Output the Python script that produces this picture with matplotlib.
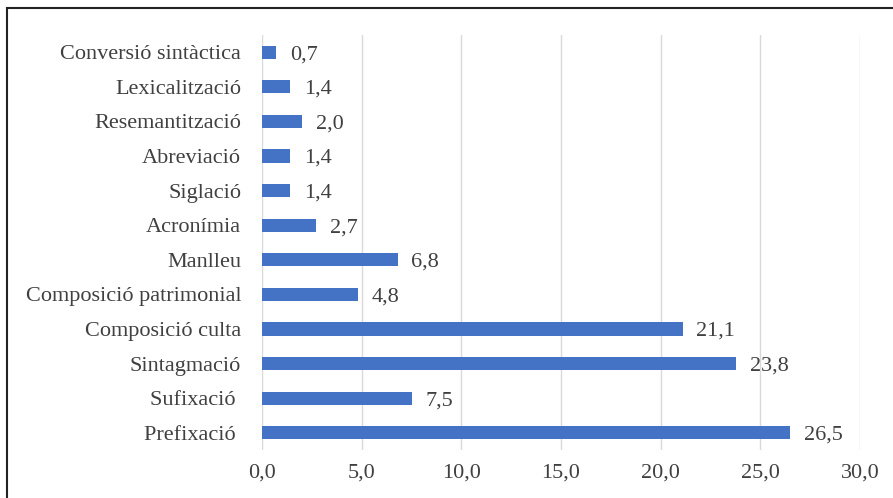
import matplotlib.pyplot as plt
from matplotlib.patches import Rectangle

categories = ["Prefixació ", "Sufixació ", "Sintagmació", "Composició culta",
              "Composició patrimonial", "Manlleu", "Acronímia", "Siglació",
              "Abreviació", "Resemantització", "Lexicalització", "Conversió sintàctica"]
values = [26.5, 7.5, 23.8, 21.1, 4.8, 6.8, 2.7, 1.4, 1.4, 2.0, 1.4, 0.7]
xticks = [0, 5, 10, 15, 20, 25, 30]

plt.rcParams["font.family"] = ["Liberation Serif", "DejaVu Serif"]
txt = "#404040"
fs = 16

fig = plt.figure(figsize=(8.93, 4.98), dpi=100)
ax = fig.add_axes([262/893, 1-450/498, (860-262)/893, (450-35)/498])

pos = range(len(categories))
ax.barh(pos, values, height=0.38, color="#4472C4", zorder=3)
for p, v in zip(pos, values):
    ax.annotate(f"{v:.1f}".replace(".", ","), (v, p), xytext=(10, 0),
                textcoords="offset points", va="center_baseline", ha="left",
                fontsize=fs, color=txt)

ax.set_xlim(0, 30)
ax.set_ylim(-0.5, len(categories) - 0.5)
ax.set_xticks(xticks)
ax.set_xticklabels([f"{t:.1f}".replace(".", ",") for t in xticks], fontsize=fs, color=txt)
ax.set_yticks(list(pos))
ax.set_yticklabels(categories, fontsize=fs, color=txt, va="center_baseline")
ax.tick_params(axis="x", length=0, pad=10)
ax.tick_params(axis="y", length=0, pad=15)
ax.grid(axis="x", color="#d9d9d9", linewidth=1, zorder=0)
for s in ax.spines.values():
    s.set_visible(False)

fig.patches.append(Rectangle((7/893, -0.1), 1.2, 1 - 8/498 + 0.1, transform=fig.transFigure,
                             fill=False, edgecolor="#222222", linewidth=1.5))

fig.savefig("out.png", dpi=100)
